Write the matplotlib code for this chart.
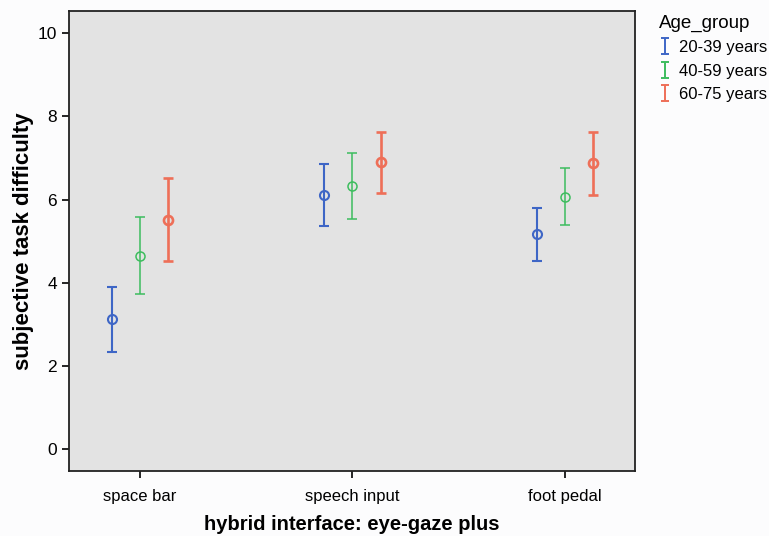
import numpy as np
import matplotlib.pyplot as plt
from matplotlib.path import Path
from matplotlib.lines import Line2D

plt.rcParams['font.family'] = ['Liberation Sans', 'DejaVu Sans']

# data
interfaces = ['space bar', 'speech input', 'foot pedal']
groups = ['20-39 years', '40-59 years', '60-75 years']
means = {
    '20-39 years': [3.13, 6.12, 5.17],
    '40-59 years': [4.65, 6.32, 6.07],
    '60-75 years': [5.51, 6.90, 6.87],
}
lower = {
    '20-39 years': [2.35, 5.37, 4.53],
    '40-59 years': [3.73, 5.53, 5.38],
    '60-75 years': [4.53, 6.16, 6.12],
}
upper = {
    '20-39 years': [3.90, 6.86, 5.80],
    '40-59 years': [5.57, 7.12, 6.75],
    '60-75 years': [6.51, 7.63, 7.62],
}
colors = ['#3e66c6', '#3dbd5e', '#ee6f58']
widths = [1.5, 1.1, 1.9]
offsets = [-0.133, 0.0, 0.133]

fig = plt.figure(figsize=(7.69, 5.36), dpi=100, facecolor='#fcfcfd')
ax = fig.add_axes([0.0897, 0.1213, 0.736, 0.859])
ax.set_facecolor('#e3e3e3')

x = np.arange(len(interfaces))
handles = []
# marker that looks like the SPSS error bar legend glyph
ibar = Path([(-0.5, -1), (0.5, -1), (0, -1), (0, 1), (-0.5, 1), (0.5, 1)],
            [Path.MOVETO, Path.LINETO, Path.MOVETO, Path.LINETO, Path.MOVETO, Path.LINETO])

for g, c, lw, off in zip(groups, colors, widths, offsets):
    m = np.array(means[g])
    err = [m - np.array(lower[g]), np.array(upper[g]) - m]
    ax.errorbar(x + off, m, yerr=err, fmt='o', mfc='none', mec=c, ms=6.5, mew=lw,
                ecolor=c, elinewidth=lw, capsize=3.5, capthick=lw)
    handles.append(Line2D([], [], color=c, marker=ibar, markersize=11, markeredgewidth=1.4,
                          linestyle='none', label=g))

ax.set_xlim(-0.334, 2.33)
ax.set_ylim(-0.52, 10.54)
ax.set_xticks(x)
ax.set_xticklabels(interfaces, fontsize=12)
ax.set_yticks([0, 2, 4, 6, 8, 10])
ax.tick_params(axis='y', labelsize=12.5, length=5, width=1.2)
ax.tick_params(axis='x', length=5, width=1.2, pad=8)
for s in ax.spines.values():
    s.set_linewidth(1.3)
    s.set_color('#222222')

ax.set_xlabel('hybrid interface: eye-gaze plus', fontsize=14.5, fontweight='bold', labelpad=8)
ax.set_ylabel('subjective task difficulty', fontsize=16, fontweight='bold')
ax.yaxis.set_label_coords(-0.062, 0.5)

leg = fig.legend(handles=handles, title='Age_group', loc='upper left',
                 bbox_to_anchor=(0.848, 0.985), frameon=False, fontsize=12,
                 title_fontsize=13.5, handlelength=0.8, handletextpad=0.4,
                 labelspacing=0.5, borderaxespad=0)
leg._legend_box.align = 'left'

fig.savefig('out.png', dpi=100, facecolor=fig.get_facecolor())
